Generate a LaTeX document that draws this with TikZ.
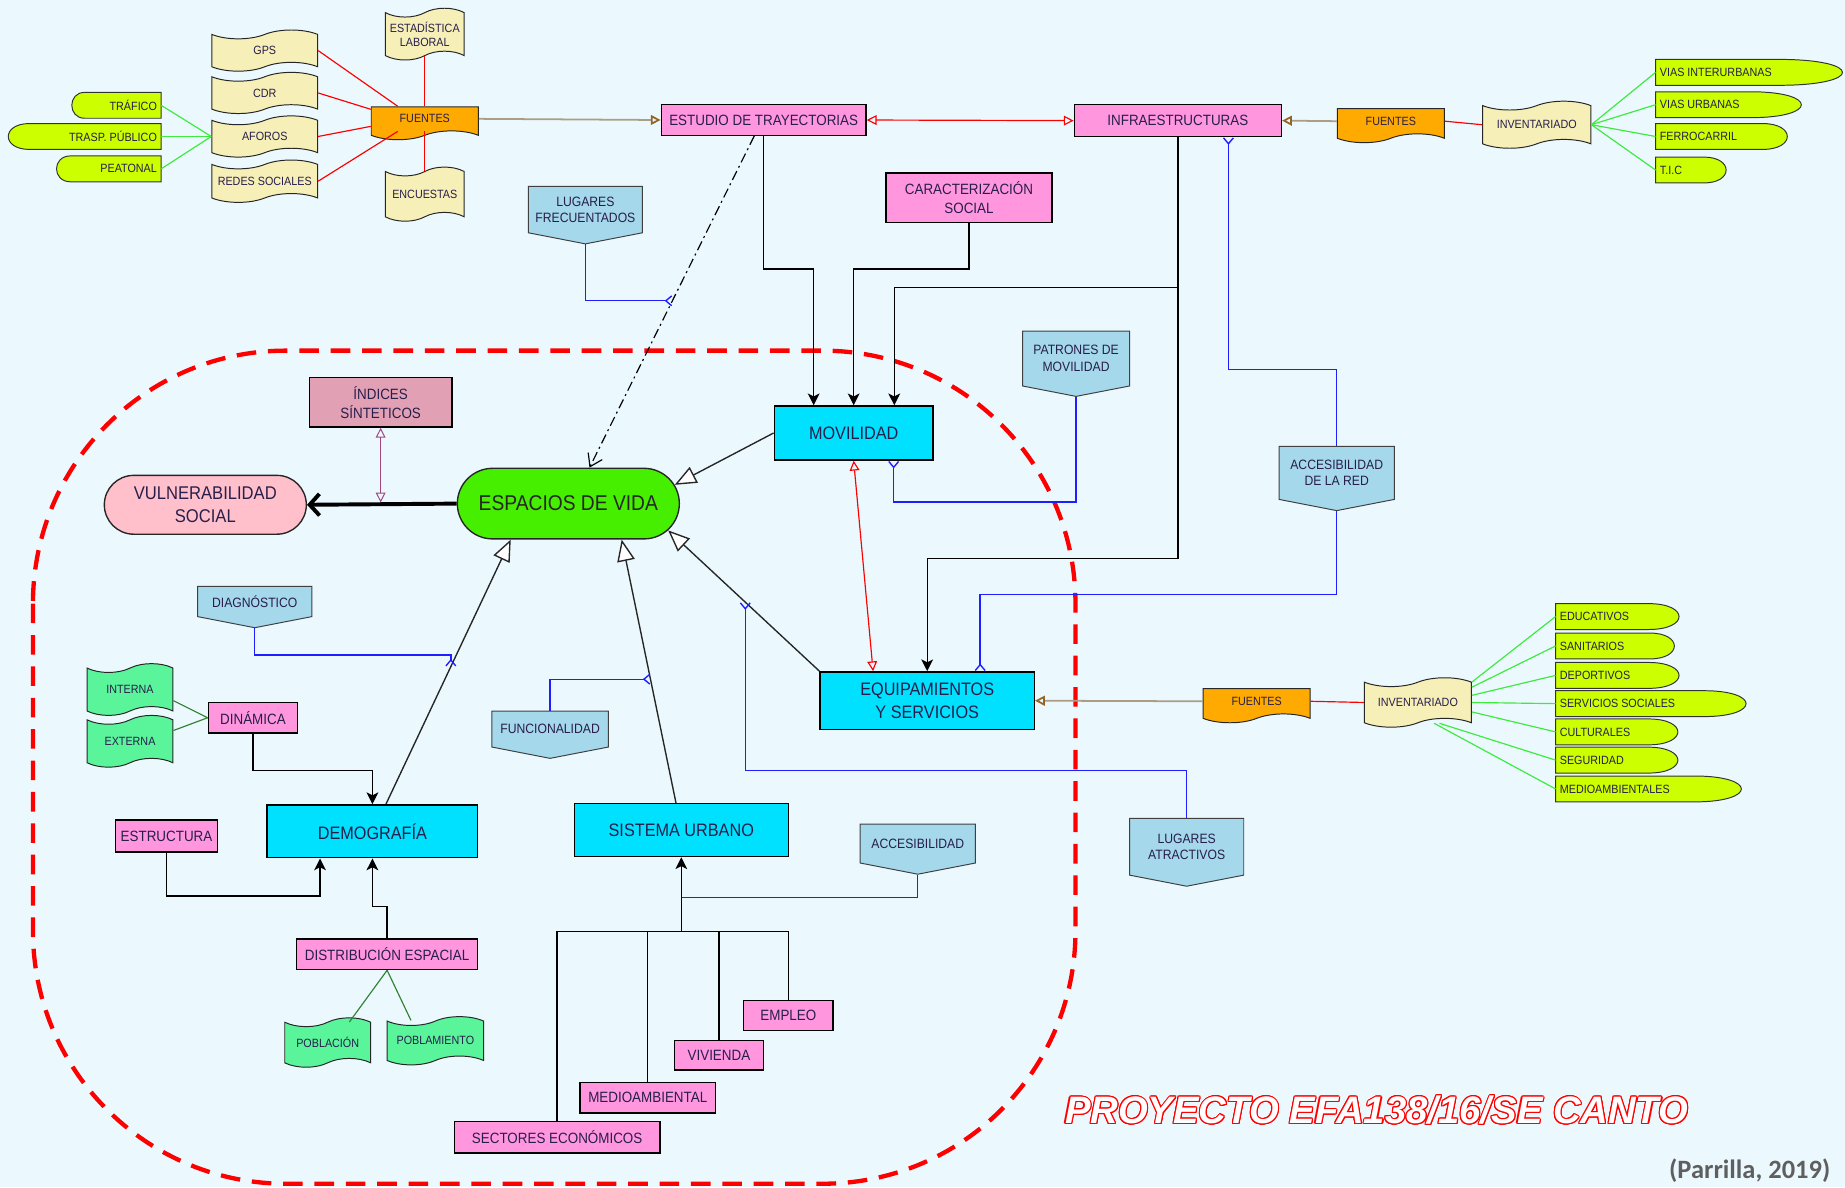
\documentclass[tikz,border=0pt]{standalone}
\usepackage{fontspec}
\setmainfont{Liberation Sans}[FakeStretch=0.9]
\newfontfamily\titlefont{Liberation Sans}
\newfontfamily\notefont{Carlito}
\usepackage{contour}
\contourlength{0.55pt}
\usetikzlibrary{shapes.symbols, shapes.misc, arrows.meta, calc}

\definecolor{bgcol}{RGB}{235,249,255}
\definecolor{txtcol}{RGB}{40,30,75}
\definecolor{pinkfill}{RGB}{255,150,222}
\definecolor{cyanfill}{RGB}{0,225,255}
\definecolor{tanfill}{RGB}{246,239,184}
\definecolor{orangefill}{RGB}{255,170,0}
\definecolor{mintfill}{RGB}{90,245,155}
\definecolor{limefill}{RGB}{204,255,0}
\definecolor{bluefill}{RGB}{164,216,234}
\definecolor{mauvefill}{RGB}{226,160,180}
\definecolor{rosefill}{RGB}{255,192,203}
\definecolor{espfill}{RGB}{70,238,0}
\definecolor{srcline}{RGB}{172,158,132}
\definecolor{srctip}{RGB}{150,100,40}
\definecolor{linkblue}{RGB}{30,30,255}
\definecolor{leafgreen}{RGB}{60,235,60}
\definecolor{darkgreen}{RGB}{50,130,50}
\definecolor{mauveline}{RGB}{160,70,130}
\definecolor{notegray}{RGB}{95,95,95}

\tikzset{yfork/.tip={Straight Barb[reversed, length=3pt, width=5pt]}}
\tikzset{openhead/.tip={Triangle[open, length=5pt, width=5pt]}}
\tikzset{bighead/.tip={Triangle[length=11pt, width=9pt, fill=white]}}
\tikzset{box/.style={rectangle, draw=black, line width=0.7pt, text=txtcol, align=center, inner sep=1pt}}
\tikzset{pinkbox/.style={box, fill=pinkfill, font=\fontsize{7.6}{9.4}\selectfont}}
\tikzset{cyanbox/.style={box, fill=cyanfill, font=\fontsize{9.2}{11.4}\selectfont}}
\tikzset{docu/.style={tape, draw=black!85, line width=0.5pt, tape bend height=4.5pt, text=txtcol,
    align=center, inner sep=1pt, font=\fontsize{6.1}{7.3}\selectfont}}
\tikzset{tanDoc/.style={docu, fill=tanfill}}
\tikzset{greenDoc/.style={docu, fill=mintfill}}
\tikzset{srcDoc/.style={docu, fill=orangefill, tape bend top=none}}
\tikzset{tag/.style={signal, signal to=south, signal pointer angle=158, draw=black!75, line width=0.5pt,
    fill=bluefill, text=txtcol, align=center, inner sep=1pt, anchor=north, font=\fontsize{6.9}{8.4}\selectfont}}
\tikzset{pill/.style={draw=black!80, line width=0.5pt, fill=limefill}}
\tikzset{pilltext/.style={inner sep=2pt, text=txtcol, font=\fontsize{6.1}{7.3}\selectfont}}
\tikzset{arr/.style={line width=0.7pt, -{Stealth[length=6pt, width=6pt, inset=1.5pt]}}}
\tikzset{plainline/.style={line width=0.7pt}}
\tikzset{gen/.style={line width=0.7pt, draw=black!85, -bighead}}
\tikzset{leaf/.style={draw=leafgreen, line width=0.6pt}}
\tikzset{dgreen/.style={draw=darkgreen, line width=0.6pt}}
\tikzset{srcred/.style={draw=red, line width=0.6pt}}
\tikzset{srcarrow/.style={draw=srcline, line width=0.9pt, -{Triangle[open, color=srctip, length=5pt, width=5pt]}}}
\tikzset{redlink/.style={draw=red, line width=0.6pt, openhead-openhead}}
\tikzset{blink/.style={draw=linkblue, line width=0.7pt, -yfork}}
\tikzset{region/.style={draw=red, line width=2.2pt, dash pattern=on 10pt off 6pt, rounded corners=129pt}}

\newcommand{\pillR}[6]{% name, left x, flat end x, centre y, cap width, text
  \filldraw[pill] (#2,#4-11) -- (#3,#4-11)
    .. controls ({#3+1.33*#5},#4-11) and ({#3+1.33*#5},#4+11) .. (#3,#4+11)
    -- (#2,#4+11) -- cycle;
  \node[pilltext, anchor=west] (#1) at (#2,#4) {#6};}
\newcommand{\pillL}[6]{% name, right x, flat start x, centre y, cap width, text
  \filldraw[pill] (#2,#4-11) -- (#3,#4-11)
    .. controls ({#3-1.33*#5},#4-11) and ({#3-1.33*#5},#4+11) .. (#3,#4+11)
    -- (#2,#4+11) -- cycle;
  \node[pilltext, anchor=east] (#1) at (#2,#4) {#6};}

\begin{document}
\begin{tikzpicture}[x=0.6pt, y=-0.6pt]
    \useasboundingbox (0,0) rectangle (1568,1009);
    \fill[bgcol] (0,0) rectangle (1568,1009);
    \draw[region] (28,298) rectangle (914,1006);

    % fuentes de trayectorias
    \node[tanDoc, minimum width=54pt, minimum height=21pt] (gps) at (225,43) {GPS};
    \node[tanDoc, minimum width=54pt, minimum height=21pt] (cdr) at (225,79) {CDR};
    \node[tanDoc, minimum width=54pt, minimum height=21pt] (aforos) at (225,116) {AFOROS};
    \node[tanDoc, minimum width=54pt, minimum height=21.6pt] (redes) at (225,154) {REDES SOCIALES};
    \node[tanDoc, minimum width=40.2pt, minimum height=26.4pt] (estad) at (361,29) {ESTADÍSTICA\\LABORAL};
    \node[tanDoc, minimum width=40.2pt, minimum height=27.6pt] (encuestas) at (361,165) {ENCUESTAS};
    \node[srcDoc, minimum width=54.6pt, minimum height=16.8pt] (fuentesL) at (361,101) {FUENTES};

    \pillL{trafico}{137}{72}{89.5}{11}{TRÁFICO}
    \pillL{trasp}{137}{25}{116}{18}{TRASP. PÚBLICO}
    \pillL{peatonal}{137}{60}{143.5}{12}{PEATONAL}

    \node[pinkbox, minimum width=104.4pt, minimum height=15.6pt] (estudio) at (649,102) {ESTUDIO DE TRAYECTORIAS};
    \node[pinkbox, minimum width=105.6pt, minimum height=16.2pt] (infra) at (1001,102.5) {INFRAESTRUCTURAS};
    \node[pinkbox, minimum width=84.6pt, minimum height=25.2pt] (caract) at (823.5,168) {CARACTERIZACIÓN\\SOCIAL};

    % infraestructuras
    \node[srcDoc, minimum width=54.6pt, minimum height=17.4pt] (fuentesR) at (1182,103) {FUENTES};
    \node[tanDoc, minimum width=55.2pt, minimum height=24pt] (invTop) at (1306,106) {INVENTARIADO};
    \pillR{viasInter}{1407}{1512}{61.5}{54}{VIAS INTERURBANAS}
    \pillR{viasUrb}{1407}{1488}{89}{43}{VIAS URBANAS}
    \pillR{ferro}{1407}{1498}{116}{21}{FERROCARRIL}
    \pillR{tic}{1407}{1448}{144.5}{19}{T.I.C}

    % nucleo
    \node[tag, minimum width=58.2pt, minimum height=28.8pt] (lugFrec) at (497.5,158) {LUGARES\\FRECUENTADOS};
    \node[tag, minimum width=54.6pt, minimum height=32.4pt] (patrones) at (914.5,281) {PATRONES DE\\MOVILIDAD};
    \node[tag, minimum width=58.8pt, minimum height=31.8pt] (accRed) at (1136,379) {ACCESIBILIDAD\\DE LA RED};
    \node[tag, minimum width=58.2pt, minimum height=19.8pt] (diagnostico) at (216.5,498) {DIAGNÓSTICO};
    \node[tag, minimum width=59.4pt, minimum height=23.4pt] (funcional) at (467.5,604) {FUNCIONALIDAD};
    \node[tag, minimum width=58.8pt, minimum height=24.6pt] (accesib) at (780,700) {ACCESIBILIDAD};
    \node[tag, minimum width=58.2pt, minimum height=33pt] (lugAtr) at (1008.5,695) {LUGARES\\ATRACTIVOS};

    \node[cyanbox, minimum width=81pt, minimum height=27.6pt] (movilidad) at (725.5,368) {MOVILIDAD};
    \node[cyanbox, minimum width=109.2pt, minimum height=29.4pt] (equip) at (788,595.5) {EQUIPAMIENTOS\\Y SERVICIOS};
    \node[cyanbox, minimum width=107.4pt, minimum height=27pt] (demografia) at (316.5,706.5) {DEMOGRAFÍA};
    \node[cyanbox, minimum width=109.2pt, minimum height=27pt] (sistema) at (579,705.5) {SISTEMA URBANO};

    \node[box, fill=mauvefill, minimum width=72.6pt, minimum height=25.2pt,
    font=\fontsize{7.6}{9.4}\selectfont] (indices) at (323.5,342) {ÍNDICES\\SÍNTETICOS};
    \node[rounded rectangle, draw=black!85, line width=0.7pt, fill=rosefill, text=txtcol, align=center,
    minimum width=105pt, minimum height=30pt, inner sep=1pt,
    font=\fontsize{9.4}{11.4}\selectfont] (vulnerab) at (174.5,429) {VULNERABILIDAD\\SOCIAL};
    \node[rounded rectangle, draw=black!85, line width=0.7pt, fill=espfill, text=black!85,
    minimum width=115.2pt, minimum height=36pt, inner sep=1pt,
    font=\fontsize{10.9}{13}\selectfont] (espacios) at (483,428) {ESPACIOS DE VIDA};

    % demografia
    \node[greenDoc, minimum width=43.8pt, minimum height=26.4pt] (interna) at (110.5,586) {INTERNA};
    \node[greenDoc, minimum width=43.8pt, minimum height=26.4pt] (externa) at (110.5,630) {EXTERNA};
    \node[pinkbox, minimum width=45.6pt, minimum height=15.6pt] (dinamica) at (215,610) {DINÁMICA};
    \node[pinkbox, minimum width=52.2pt, minimum height=16.2pt] (estructura) at (141.5,710.5) {ESTRUCTURA};
    \node[pinkbox, minimum width=92.4pt, minimum height=15.6pt] (distrib) at (329,811) {DISTRIBUCIÓN ESPACIAL};
    \node[greenDoc, minimum width=43.8pt, minimum height=25.2pt] (poblacion) at (278.5,886) {POBLACIÓN};
    \node[greenDoc, minimum width=49.2pt, minimum height=24.6pt] (poblamiento) at (370,884.5) {POBLAMIENTO};

    % sistema urbano
    \node[pinkbox, minimum width=45.6pt, minimum height=15.3pt] (empleo) at (670,862.8) {EMPLEO};
    \node[pinkbox, minimum width=45.6pt, minimum height=15pt] (vivienda) at (611,897) {VIVIENDA};
    \node[pinkbox, minimum width=69pt, minimum height=15.6pt] (medioamb) at (550.5,933) {MEDIOAMBIENTAL};
    \node[pinkbox, minimum width=105pt, minimum height=16.2pt] (sectores) at (473.5,966.5) {SECTORES ECONÓMICOS};

    % equipamientos
    \node[srcDoc, minimum width=54.6pt, minimum height=17.4pt] (fuentesM) at (1068,596) {FUENTES};
    \node[tanDoc, minimum width=54.6pt, minimum height=25.2pt] (invMid) at (1205,597) {INVENTARIADO};
    \pillR{educ}{1322}{1401}{524}{26}{EDUCATIVOS}
    \pillR{sanit}{1322}{1402}{549}{21}{SANITARIOS}
    \pillR{deport}{1322}{1401}{574}{26}{DEPORTIVOS}
    \pillR{servsoc}{1322}{1448}{598}{36}{SERVICIOS SOCIALES}
    \pillR{cultur}{1322}{1401}{622}{25}{CULTURALES}
    \pillR{segur}{1322}{1401}{646}{25}{SEGURIDAD}
    \pillR{medioAmbR}{1322}{1440}{670.5}{40}{MEDIOAMBIENTALES}

    \node[text=red] (proyecto) at (1170,944)
    {\titlefont\bfseries\itshape\fontsize{19.5}{22}\selectfont\contour{red}{\textcolor{white}{PROYECTO EFA138/16/SE CANTO}}};
    \node[text=notegray, font=\notefont\bfseries\fontsize{13.5}{15}\selectfont] (cita) at (1487,995) {(Parrilla, 2019)};

    % conexiones fuentes
    \draw[leaf] (trafico.east) -- (aforos.west);
    \draw[leaf] (trasp.east) -- (aforos.west);
    \draw[leaf] (peatonal.east) -- (aforos.west);
    \draw[srcred] (gps.east) -- ($(fuentesL.north west)!.25!(fuentesL.north east)$);
    \draw[srcred] (cdr.east) -- ($(fuentesL.north west)!.12!(fuentesL.south west)$);
    \draw[srcred] (aforos.east) -- ($(fuentesL.north west)!.8!(fuentesL.south west)$);
    \draw[srcred] (redes.east) -- ($(fuentesL.south west)!.25!(fuentesL.south east)$);
    \draw[srcred] (estad.south) -- (fuentesL.north);
    \draw[srcred] (encuestas.north) -- (fuentesL.south);
    \draw[srcarrow] (fuentesL.east) -- (estudio.west);
    \draw[redlink] (estudio.east) -- (infra.west);
    \draw[srcarrow] (fuentesR.west) -- (infra.east);
    \draw[srcred] (fuentesR.east) -- (invTop.west);
    \foreach \p in {viasInter, viasUrb, ferro, tic}
        \draw[leaf] (invTop.east) -- (\p.west);

    % trayectorias y movilidad
    \coordinate (ddA) at ($(estudio.south)+(-8,0)$);
    \coordinate (ddB) at ($(espacios.north)+(18,0)$);
    \draw[line width=0.6pt, dash pattern=on 5pt off 2pt on 1pt off 2pt,
    -{Straight Barb[length=6pt, width=8pt]}] (ddA) -- (ddB);
    \draw[blink] (lugFrec.south) |- ($(ddA)!.497!(ddB)$);
    \draw[arr] (estudio.south) -- ++(0,113) -| ($(movilidad.north)+(-34,0)$);
    \draw[arr] (caract.south) -- ++(0,39) -| (movilidad.north);
    \draw[arr] (infra.south) -- ++(0,358) -| (equip.north);
    \coordinate (infraSplit) at ($(infra.south)+(0,128)$);
    \draw[arr] (infraSplit) -| ($(movilidad.north)+(34.5,0)$);
    \draw[blink] (patrones.south) |- ($(movilidad.south)+(34,35)$) -- ($(movilidad.south)+(34,0)$);
    \draw[redlink] (movilidad.south) -- ($(equip.north)+(-46,0)$);
    \draw[blink] (accRed.north) -- ++(0,-65) -| ($(infra.south)+(43,0)$);
    \draw[blink] (accRed.south) |- ($(equip.north)+(45,-65)$) -- ($(equip.north)+(45,0)$);
    \draw[srcarrow] (fuentesM.west) -- (equip.east);
    \draw[srcred] (fuentesM.east) -- (invMid.west);
    \draw[leaf] (invMid.north east) -- (educ.west);
    \draw[leaf] ($(invMid.north east)!.25!(invMid.east)$) -- (sanit.west);
    \draw[leaf] ($(invMid.north east)!.65!(invMid.east)$) -- (deport.west);
    \draw[leaf] (invMid.east) -- (servsoc.west);
    \draw[leaf] ($(invMid.east)!.45!(invMid.south east)$) -- (cultur.west);
    \draw[leaf] ($(invMid.south)!.4!(invMid.south east)$) -- (segur.west);
    \draw[leaf] ($(invMid.south)!.3!(invMid.south east)$) -- (medioAmbR.west);

    % hacia espacios de vida
    \coordinate (demoTop) at ($(demografia.north)+(11.5,0)$);
    \coordinate (sisTop) at ($(sistema.north)+(-4.5,0)$);
    \draw[gen] (movilidad.west) -- (espacios.10);
    \draw[gen] (equip.north west) -- (espacios.-15);
    \draw[gen] (demoTop) -- (espacios.212);
    \draw[gen] (sisTop) -- (espacios.326);
    \draw[line width=2pt, -{Straight Barb[length=5pt, width=11pt]}] (espacios.west) -- (vulnerab.east);
    \draw[draw=mauveline, line width=0.5pt, shorten >=1.2pt, openhead-openhead]
    (indices.south) -- (indices.south |- vulnerab.east);

    \coordinate (dfork) at ($(demoTop)!.52!(espacios.212)$);
    \draw[blink] (diagnostico.south) |- ($(dfork)+(0,-10)$) -- (dfork);
    \coordinate (sfork) at ($(sisTop)!.47!(espacios.326)$);
    \draw[blink] (funcional.north) |- (sfork);
    \coordinate (efork) at ($(equip.north west)!.49!(espacios.-15)$);
    \draw[blink] (lugAtr.north) -- ++(0,-40) -| (efork);

    % demografia
    \draw[arr] (dinamica.south) -- ++(0,31) -| (demografia.north);
    \draw[arr] (estructura.south) |- ($(demografia.south)+(-44.5,32)$) -- ($(demografia.south)+(-44.5,0)$);
    \draw[arr] (distrib.north) -- ++(0,-27) -| (demografia.south);
    \draw[dgreen] (dinamica.west) -- ($(interna.east)!.5!(interna.south east)$);
    \draw[dgreen] (dinamica.west) -- ($(externa.east)!.5!(externa.north east)$);
    \draw[dgreen] (distrib.south) -- ($(poblacion.north)!.5!(poblacion.north east)$);
    \draw[dgreen] (distrib.south) -- ($(poblamiento.north)!.5!(poblamiento.north west)$);

    % sistema urbano
    \coordinate (hub) at ($(sistema.south)+(0,63)$);
    \draw[draw=linkblue, line width=0.7pt] (accesib.south) |- ($(sistema.south)+(0,34)$);
    \draw[arr] (hub) -- (sistema.south);
    \foreach \b in {sectores, medioamb, vivienda, empleo}
        \draw[plainline] (\b.north) |- (hub);
\end{tikzpicture}
\end{document}
